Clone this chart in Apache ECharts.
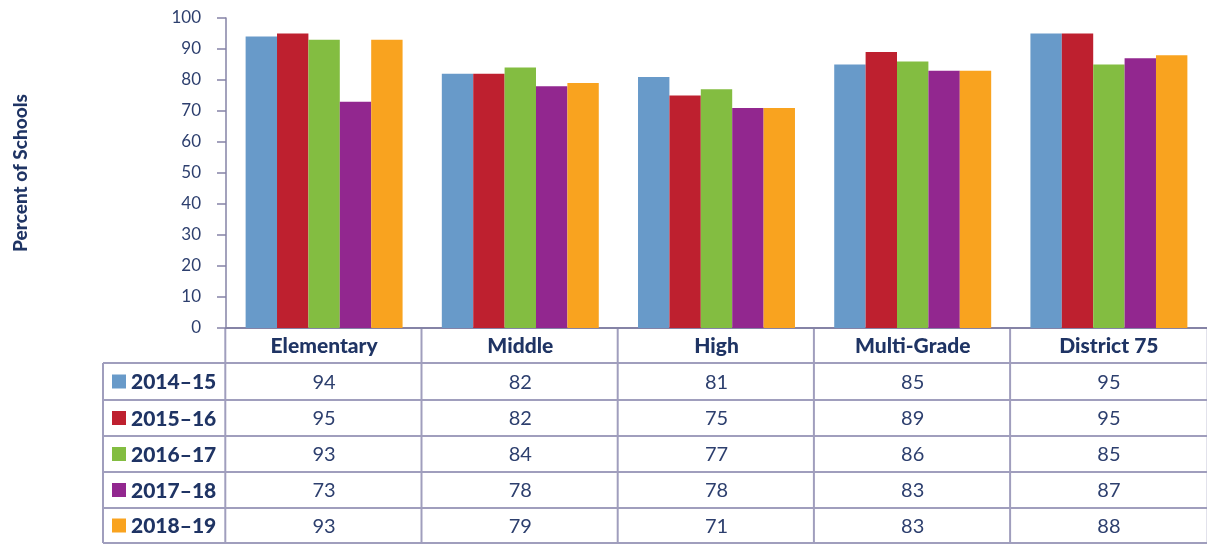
<!DOCTYPE html>
<html>
<head>
<meta charset="utf-8">
<script src="https://cdn.jsdelivr.net/npm/echarts@6/dist/echarts.min.js"></script>
<style>
  html, body { margin: 0; padding: 0; background: #fff; }
  #chart { width: 1207px; height: 544px; }
</style>
</head>
<body>
<div id="chart"></div>
<script>
// categories and years
const categories = ['Elementary', 'Middle', 'High', 'Multi-Grade', 'District 75'];
const years = ['2014–15', '2015–16', '2016–17', '2017–18', '2018–19'];
const colors = ['#689ac9', '#be202f', '#83bd41', '#92278f', '#f9a31f'];

// bar heights as drawn
const bars1415 = [94, 82, 81, 85, 95];
const bars1516 = [95, 82, 75, 89, 95];
const bars1617 = [93, 84, 77, 86, 85];
const bars1718 = [73, 78, 71, 83, 87];
const bars1819 = [93, 79, 71, 83, 88];

// values printed in the table (2017-18 High reads 78 in the table)
const table1718 = [73, 78, 78, 83, 87];

const yTicks = [0, 10, 20, 30, 40, 50, 60, 70, 80, 90, 100];

const barRows = [bars1415, bars1516, bars1617, bars1718, bars1819];
const tableRows = [bars1415, bars1516, bars1617, table1718, bars1819];

const navy = '#1f3464';
const axisColor = '#8583a6';
const lineColor = '#a09ebd';
const font = 'Lato';

const myChart = echarts.init(document.getElementById('chart'));

const plotWidth = 988;

const option = {
  animation: false,
  grid: { left: 226, top: 18, width: plotWidth, bottom: 216 },
  xAxis: {
    type: 'category',
    data: categories,
    axisLine: { lineStyle: { color: axisColor, width: 2 } },
    axisTick: { show: false },
    axisLabel: {
      margin: 8,
      fontFamily: font,
      fontWeight: 900,
      fontSize: 21,
      color: navy
    }
  },
  yAxis: {
    type: 'value',
    min: 0,
    max: 100,
    interval: 10,
    name: 'Percent of Schools',
    nameLocation: 'middle',
    nameRotate: 90,
    nameGap: 196,
    nameTextStyle: { fontFamily: font, fontWeight: 900, fontSize: 19, color: navy },
    axisLine: { show: true, lineStyle: { color: axisColor, width: 1.5 } },
    axisTick: { show: true, length: 9, lineStyle: { color: axisColor, width: 1.5 } },
    splitLine: { show: false },
    axisLabel: {
      margin: 25,
      fontFamily: font,
      fontSize: 17,
      color: '#2d3f6e',
      formatter: (v) => yTicks.includes(v) ? String(v) : ''
    }
  },
  series: years.map((y, i) => ({
    name: y,
    type: 'bar',
    data: barRows[i],
    barGap: 0,
    barCategoryGap: '20%',
    itemStyle: { color: colors[i] }
  }))
};

myChart.setOption(option);

// table under the chart, aligned to the category axis
const rowLines = [363, 400, 436, 472, 508, 543];
const tableLeft = 103;
const tableRight = 1207;
const axisY = 328;
const band = plotWidth / categories.length;

const g = [];
const centers = categories.map(c => myChart.convertToPixel({ xAxisIndex: 0 }, c));
const bounds = centers.map(x => x - band / 2).concat([centers[centers.length - 1] + band / 2]);

rowLines.forEach(y => {
  g.push({ type: 'line', shape: { x1: tableLeft, y1: y, x2: tableRight, y2: y },
    style: { stroke: lineColor, lineWidth: 2 } });
});
bounds.forEach(x => {
  g.push({ type: 'line', shape: { x1: x, y1: axisY, x2: x, y2: rowLines[rowLines.length - 1] },
    style: { stroke: lineColor, lineWidth: 2 } });
});
g.push({ type: 'line', shape: { x1: tableLeft, y1: rowLines[0], x2: tableLeft, y2: rowLines[rowLines.length - 1] },
  style: { stroke: lineColor, lineWidth: 2 } });

years.forEach((yr, r) => {
  const cy = (rowLines[r] + rowLines[r + 1]) / 2;
  g.push({ type: 'rect', shape: { x: 112, y: cy - 7, width: 14, height: 14 }, style: { fill: colors[r] } });
  g.push({ type: 'text', x: 131, y: cy + 1,
    style: { text: yr, fontFamily: font, fontWeight: 900, fontSize: 21, fill: navy,
      textAlign: 'left', textVerticalAlign: 'middle' } });
  tableRows[r].forEach((v, c) => {
    g.push({ type: 'text', x: centers[c], y: cy + 1,
      style: { text: String(v), fontFamily: font, fontSize: 20, fill: '#2d3f6e',
        textAlign: 'center', textVerticalAlign: 'middle' } });
  });
});

myChart.setOption({ graphic: { elements: g } });
</script>
</body>
</html>
